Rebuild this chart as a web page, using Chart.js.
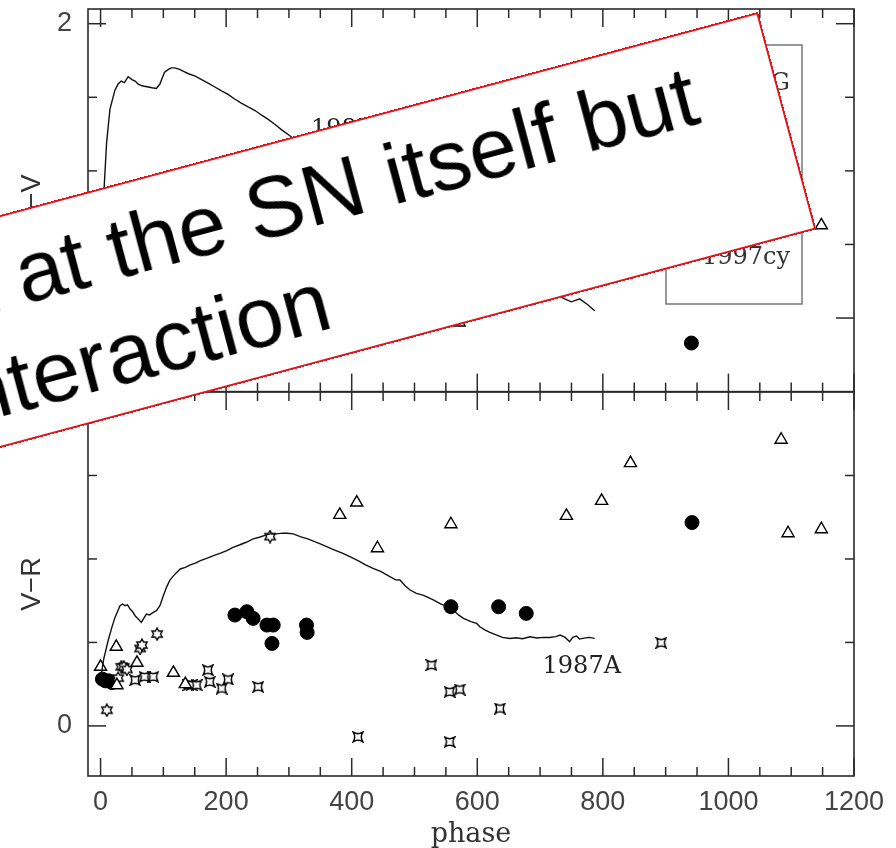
<!DOCTYPE html>
<html>
<head>
<meta charset="utf-8">
<script src="https://cdn.jsdelivr.net/npm/chart.js@4/dist/chart.umd.min.js"></script>
<style>
  html, body { margin: 0; padding: 0; background: #fff; }
  #wrap { position: relative; width: 896px; height: 848px; overflow: hidden; background: #fff; }
  #top { position: absolute; left: 0; top: 0; }
  #bot { position: absolute; left: 0; top: 380px; }
  #note {
    position: absolute; left: -642px; top: 12px; width: 1400px; height: 225px;
    box-sizing: border-box; background: #fff; border: 2px solid #e8141c;
    transform-origin: 100% 0; transform: rotate(-15deg);
    font-family: "Liberation Sans", Arial, sans-serif; font-size: 86px; color: #000;
  }
  #note span { position: absolute; white-space: nowrap; line-height: 86px; }
</style>
</head>
<body>
<div id="wrap">
  <canvas id="top" width="896" height="400"></canvas>
  <canvas id="bot" width="896" height="468"></canvas>
  <div id="note">
    <span style="right:80px; top:17px;">Emission not at the SN itself but</span>
    <span style="right:488px; top:120px;">from circumstellar interaction</span>
  </div>
</div>
<script>
// ---- axes ----
const xMajor = [0, 200, 400, 600, 800, 1000, 1200];
const xMinor = [0, 50, 100, 150, 200, 250, 300, 350, 400, 450, 500, 550, 600,
                650, 700, 750, 800, 850, 900, 950, 1000, 1050, 1100, 1150, 1200];
const bvLabels = [0, 2];
const bvMinor = [0, 0.5, 1, 1.5, 2];
const vrLabels = [0];
const vrMinor = [0, 0.5, 1, 1.5];
const legendNames = ["1995G", "1988Z", "1998S", "1997cy"];

// ---- B-V panel ----
const bv87Phase = [1, 3, 5, 6, 9.6, 15, 23, 28, 33, 38, 44, 50, 55, 60, 65, 70, 76, 82, 89, 94.5,
  98, 102, 108, 113, 118, 126, 133, 140, 150, 161, 172, 182, 192, 203, 213, 224, 235, 246,
  256, 267, 278, 288, 301, 330, 370, 420, 470, 520, 570, 620, 670, 700, 726, 739, 750, 763, 776, 787];
const bv87 = [0.05, 0.45, 0.8, 0.91, 1.19, 1.42, 1.55, 1.59, 1.61, 1.6, 1.64, 1.62, 1.61, 1.59,
  1.58, 1.575, 1.57, 1.565, 1.56, 1.59, 1.63, 1.67, 1.69, 1.7, 1.7, 1.69, 1.675, 1.66, 1.645,
  1.62, 1.595, 1.57, 1.545, 1.52, 1.49, 1.46, 1.435, 1.41, 1.38, 1.35, 1.315, 1.28, 1.24,
  1.14, 0.98, 0.78, 0.57, 0.4, 0.28, 0.21, 0.18, 0.17, 0.16, 0.13, 0.11, 0.13, 0.09, 0.05];
const bvDotPhase = [941];
const bvDot = [-0.17];
const bvTriPhase = [571, 1148];
const bvTri = [-0.03, 0.63];

// ---- V-R panel ----
const vr87Phase = [0, 5, 12, 18, 23, 31, 35, 39, 43, 47, 51, 55, 60, 65, 69, 73, 78, 84, 89, 94.5,
  100, 105, 110, 114, 120, 127, 135, 143, 151, 159, 170, 180, 191, 201, 211, 222, 232, 243, 253,
  264, 270, 280, 290, 297, 307, 318, 330, 340, 350, 360, 372, 385, 397, 410, 422, 434, 446, 458,
  470, 477, 485, 493, 503, 512, 519, 530, 540, 546, 555, 562, 570, 578, 590, 599, 604, 612, 620,
  631, 640, 652, 662, 672, 684, 695, 705, 715, 725, 732, 740, 747, 752, 758, 763, 768, 778, 787];
const vr87 = [0.28, 0.4, 0.51, 0.59, 0.65, 0.72, 0.73, 0.72, 0.725, 0.7, 0.685, 0.66, 0.64, 0.62,
  0.645, 0.67, 0.665, 0.68, 0.69, 0.72, 0.78, 0.83, 0.87, 0.89, 0.915, 0.94, 0.95, 0.965, 0.975,
  0.99, 1.005, 1.02, 1.035, 1.05, 1.07, 1.085, 1.1, 1.12, 1.13, 1.144, 1.15, 1.15, 1.155, 1.154,
  1.15, 1.134, 1.12, 1.105, 1.09, 1.074, 1.055, 1.035, 1.014, 0.99, 0.965, 0.944, 0.925, 0.9,
  0.875, 0.874, 0.84, 0.814, 0.794, 0.785, 0.774, 0.755, 0.734, 0.724, 0.7, 0.694, 0.665, 0.644,
  0.625, 0.614, 0.594, 0.575, 0.56, 0.544, 0.53, 0.524, 0.528, 0.522, 0.534, 0.527, 0.53, 0.53,
  0.535, 0.544, 0.53, 0.504, 0.53, 0.538, 0.52, 0.524, 0.53, 0.524];
const vrDotPhase = [3, 8, 13, 18, 214, 233, 243, 265, 275, 273, 328, 329, 558, 634, 678, 942];
const vrDot = [0.28, 0.27, 0.27, 0.26, 0.664, 0.684, 0.644, 0.604, 0.604, 0.494, 0.604, 0.56,
  0.714, 0.714, 0.674, 1.218];
const vrTriPhase = [0, 25, 26, 58, 116, 135, 381, 408, 441, 558, 742, 798, 844, 1084, 1095, 1148];
const vrTri = [0.354, 0.474, 0.244, 0.378, 0.318, 0.25, 1.264, 1.338, 1.064, 1.208, 1.258, 1.348,
  1.574, 1.714, 1.154, 1.178];
const vrStarPhase = [10, 28, 33, 37, 42, 63, 66, 90, 270];
const vrStar = [0.094, 0.286, 0.354, 0.354, 0.338, 0.464, 0.484, 0.55, 1.134];
const vrQuadPhase = [55, 70, 84, 140, 145, 153, 171, 174, 193, 203, 251, 410, 527, 556, 556, 572, 636, 893];
const vrQuad = [0.274, 0.294, 0.294, 0.244, 0.245, 0.244, 0.334, 0.264, 0.224, 0.278, 0.234, -0.066,
  0.364, 0.204, -0.096, 0.218, 0.104, 0.498];

const pts = (xs, ys) => xs.map((x, i) => ({ x: x, y: ys[i] }));

// custom marker shapes
function star6(size) {
  const c = document.createElement('canvas');
  c.width = c.height = size;
  const g = c.getContext('2d');
  const cx = size / 2, r = size / 2 - 1;
  g.beginPath();
  for (let k = 0; k < 12; k++) {
    const a = -Math.PI / 2 + k * Math.PI / 6;
    const rr = k % 2 ? r * 0.58 : r;
    g.lineTo(cx + rr * Math.cos(a), cx + rr * Math.sin(a));
  }
  g.closePath();
  g.fillStyle = '#fff'; g.fill();
  g.lineWidth = 1.4; g.strokeStyle = '#000'; g.stroke();
  return c;
}
function quad(size) {
  const c = document.createElement('canvas');
  c.width = c.height = size;
  const g = c.getContext('2d');
  const a = 1.2, b = size - 1.2, m = size / 2, d = 3;
  g.beginPath();
  g.moveTo(a, a);
  g.quadraticCurveTo(m, a + d, b, a);
  g.quadraticCurveTo(b - d, m, b, b);
  g.quadraticCurveTo(m, b - d, a, b);
  g.quadraticCurveTo(a + d, m, a, a);
  g.closePath();
  g.fillStyle = '#fff'; g.fill();
  g.lineWidth = 1.5; g.strokeStyle = '#000'; g.stroke();
  return c;
}
const starImg = star6(14);
const quadImg = quad(12);

const tickFont = { family: '"Liberation Sans", Arial, sans-serif', size: 27 };
const serif = '"DejaVu Serif", "Liberation Serif", serif';

function line(ctx, x1, y1, x2, y2) {
  ctx.beginPath(); ctx.moveTo(x1, y1); ctx.lineTo(x2, y2); ctx.stroke();
}

// frame with inward ticks on all four sides
const framePlugin = {
  id: 'frame',
  afterDraw(chart, args, opts) {
    const { ctx, chartArea: a, scales } = chart;
    const xs = scales.x, ys = scales.y;
    ctx.save();
    ctx.strokeStyle = '#2a2a2a';
    ctx.lineWidth = 1.6;
    ctx.strokeRect(a.left, a.top, a.right - a.left, a.bottom - a.top);
    ctx.lineWidth = 1.5;
    xMinor.forEach(v => {
      const p = xs.getPixelForValue(v);
      const len = xMajor.includes(v) ? 18 : 9;
      line(ctx, p, a.top, p, a.top + len);
      line(ctx, p, a.bottom, p, a.bottom - len);
    });
    opts.minor.forEach(v => {
      const p = ys.getPixelForValue(v);
      const len = opts.major.includes(v) ? 18 : 9;
      line(ctx, a.left, p, a.left + len, p);
      line(ctx, a.right, p, a.right - len, p);
    });
    ctx.restore();
  }
};

// curve name and legend box
const notesPlugin = {
  id: 'notes',
  afterDatasetsDraw(chart, args, opts) {
    const { ctx, scales } = chart;
    ctx.save();
    ctx.fillStyle = '#222';
    ctx.font = '24px ' + serif;
    ctx.textAlign = 'left';
    ctx.textBaseline = 'middle';
    ctx.fillText('1987A', scales.x.getPixelForValue(opts.at[0]), scales.y.getPixelForValue(opts.at[1]));
    if (opts.legend) {
      ctx.strokeStyle = '#777';
      ctx.lineWidth = 1.5;
      ctx.strokeRect(666, 45, 136, 259);
      const marks = [starImg, null, quadImg, null];
      ctx.textAlign = 'right';
      ctx.fillStyle = '#333';
      legendNames.forEach((n, i) => {
        const y = 84 + i * 58;
        ctx.fillText(n, 790, y);
        if (marks[i]) ctx.drawImage(marks[i], 684 - marks[i].width / 2, y - marks[i].height / 2);
      });
    }
    ctx.restore();
  }
};

function yScale(min, max, labels, title) {
  return {
    type: 'linear', min: min, max: max,
    afterFit(s) { s.width = 88; s.paddingTop = 0; s.paddingBottom = 0; },
    afterBuildTicks(s) { s.ticks = labels.map(v => ({ value: v })); },
    grid: { display: false, drawTicks: false },
    border: { display: false },
    ticks: { font: tickFont, color: '#444', padding: 16, callback: v => String(v) },
    title: { display: true, text: title, font: tickFont, color: '#333', padding: { top: 16, bottom: 0 } }
  };
}

new Chart(document.getElementById('top'), {
  type: 'scatter',
  data: {
    datasets: [
      { type: 'line', data: pts(bv87Phase, bv87), borderColor: '#111', borderWidth: 1.4, pointRadius: 0, fill: false },
      { data: pts(bvDotPhase, bvDot), pointStyle: 'circle', pointRadius: 7, backgroundColor: '#000', borderColor: '#000' },
      { data: pts(bvTriPhase, bvTri), pointStyle: 'triangle', pointRadius: 7, backgroundColor: '#fff', borderColor: '#000', borderWidth: 1.4 }
    ]
  },
  options: {
    responsive: false, animation: false, devicePixelRatio: 1,
    layout: { padding: { top: 9, bottom: 8, right: 42, left: 0 } },
    plugins: {
      legend: { display: false }, tooltip: { enabled: false },
      frame: { minor: bvMinor, major: bvLabels },
      notes: { at: [335, 1.28], legend: true }
    },
    scales: {
      x: { type: 'linear', min: -20, max: 1200, display: false },
      y: yScale(-0.5, 2.1, bvLabels, 'B\u2212V')
    }
  },
  plugins: [framePlugin, notesPlugin]
});

new Chart(document.getElementById('bot'), {
  type: 'scatter',
  data: {
    datasets: [
      { type: 'line', data: pts(vr87Phase, vr87), borderColor: '#111', borderWidth: 1.4, pointRadius: 0, fill: false },
      { data: pts(vrTriPhase, vrTri), pointStyle: 'triangle', pointRadius: 7, backgroundColor: '#fff', borderColor: '#000', borderWidth: 1.4 },
      { data: pts(vrStarPhase, vrStar), pointStyle: starImg, pointRadius: 7 },
      { data: pts(vrQuadPhase, vrQuad), pointStyle: quadImg, pointRadius: 6 },
      { data: pts(vrDotPhase, vrDot), pointStyle: 'circle', pointRadius: 7, backgroundColor: '#000', borderColor: '#000' }
    ]
  },
  options: {
    responsive: false, animation: false, devicePixelRatio: 1,
    layout: { padding: { top: 12, bottom: 0, right: 42, left: 0 } },
    plugins: {
      legend: { display: false }, tooltip: { enabled: false },
      frame: { minor: vrMinor, major: vrLabels },
      notes: { at: [704, 0.353], legend: false }
    },
    scales: {
      x: {
        type: 'linear', min: -20, max: 1200,
        afterFit(s) { s.height = 72; s.paddingLeft = 0; s.paddingRight = 0; },
        afterBuildTicks(s) { s.ticks = xMajor.map(v => ({ value: v })); },
        grid: { display: false, drawTicks: false },
        border: { display: false },
        ticks: { font: tickFont, color: '#444', padding: 10, maxRotation: 0, autoSkip: false, callback: v => String(v) },
        title: { display: true, text: 'phase', font: { family: serif, size: 27, lineHeight: 1.0 }, color: '#333', padding: { top: 0, bottom: 0 } }
      },
      y: yScale(-0.3, 2.0, vrLabels, 'V\u2212R')
    }
  },
  plugins: [framePlugin, notesPlugin]
});
</script>
</body>
</html>
